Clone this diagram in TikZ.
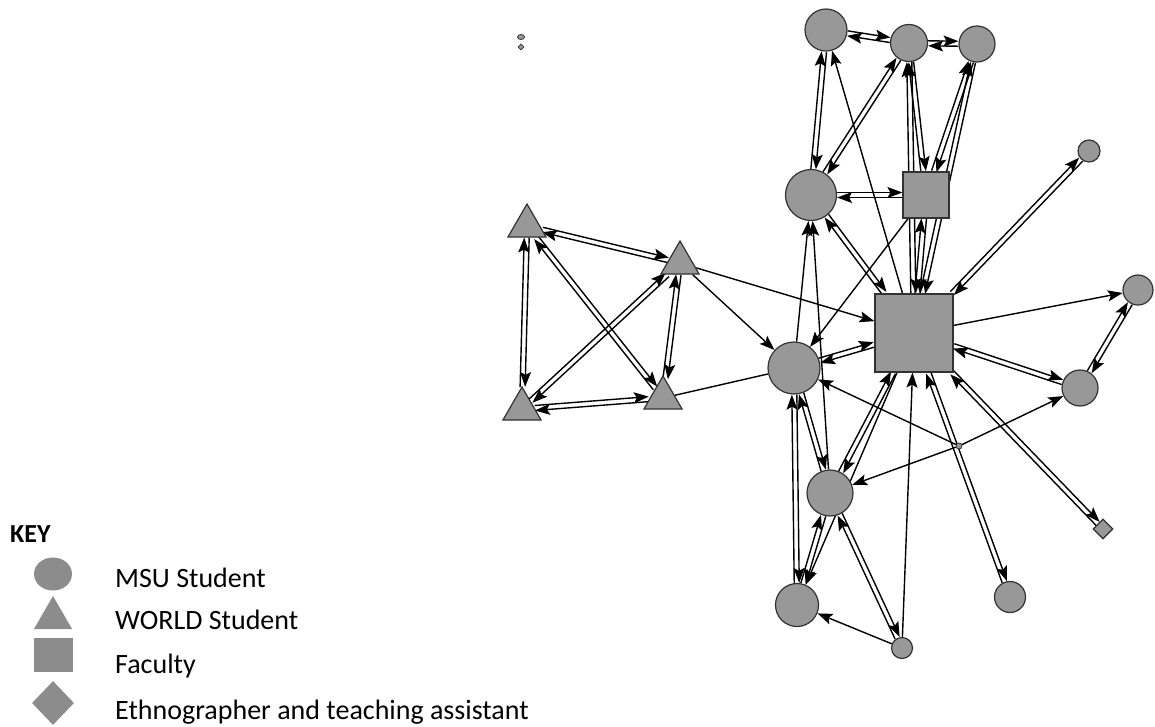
\documentclass[tikz,border=0pt]{standalone}
\usepackage{fontspec}
\setmainfont{Carlito}
\usetikzlibrary{arrows.meta,shapes.geometric,backgrounds}
\definecolor{nodegray}{RGB}{152,152,152}
\definecolor{rimgray}{RGB}{50,50,50}
\definecolor{keygray}{RGB}{140,140,140}

\begin{document}
\begin{tikzpicture}[x=1pt,y=-1pt,
    msu/.style={circle,draw=rimgray,fill=nodegray,line width=1.2pt,inner sep=0pt,minimum size=#1},
    world/.style={regular polygon,regular polygon sides=3,draw=rimgray,fill=nodegray,line width=1.2pt,inner sep=0pt,minimum size=44pt},
    faculty/.style={rectangle,draw=rimgray,fill=nodegray,line width=1.2pt,inner sep=0pt,minimum size=#1},
    ethno/.style={diamond,draw=rimgray,fill=nodegray,line width=1.2pt,inner sep=0pt,minimum size=#1},
    tie/.style={-{Stealth[length=15pt,width=11pt,inset=3pt]},line width=1.4pt},
    keyshape/.style={fill=keygray,draw=none,inner sep=0pt},
    keytext/.style={anchor=base west,inner sep=0pt,font=\fontsize{28}{32}\selectfont}]
    \useasboundingbox (0,0) rectangle (1155,726);
    % isolates
    \node[ellipse,draw=rimgray,fill=nodegray,line width=0.8pt,inner sep=0pt,minimum width=7pt,minimum height=5pt] (iso1) at (521,37) {};
    \node[ethno=6pt,line width=0.8pt] (iso2) at (521,47) {};
    % WORLD students
    \node[world] (wA) at (527,226) {};
    \node[world] (wB) at (680,263) {};
    \node[world] (wC) at (522,409) {};
    \node[world] (wD) at (663,398) {};
    % faculty
    \node[faculty=78pt] (fB) at (914,333) {};
    \node[faculty=46pt] (fS) at (926,195) {};
    % MSU students
    \node[msu=42pt] (sT1) at (826,30) {};
    \node[msu=37pt] (sT2) at (909,43) {};
    \node[msu=36pt] (sT3) at (977,44) {};
    \node[msu=51pt] (sL) at (811,195) {};
    \node[msu=52pt] (sM) at (794,368) {};
    \node[msu=22pt] (sR1) at (1089,151) {};
    \node[msu=30pt] (sR2) at (1138,290) {};
    \node[msu=36pt] (sR3) at (1080,388) {};
    \node[msu=46pt] (sLo) at (830,493) {};
    \node[msu=43pt] (sB) at (797,605) {};
    \node[msu=21pt] (sBs) at (902,648) {};
    \node[msu=31pt] (sB2) at (1010,597) {};
    \node[msu=6pt,line width=0.8pt] (hub) at (959,446) {};
    % ethnographer
    \node[ethno=20pt] (dE) at (1103,529) {};

    \begin{scope}[on background layer]
        % mutual ties: two parallel arrows
        \foreach \a/\b in {wA/wB,wA/wC,wA/wD,wB/wC,wB/wD,wC/wD,
            sT1/sT2,sT2/sT3,sT1/sL,sT2/sL,sT2/fS,sT3/fS,sL/fS,sL/fB,
            fS/fB,sT2/fB,sT3/fB,sM/fB,sM/sB,sM/sLo,sLo/sB,sLo/sBs,
            sLo/fB,fB/sR1,fB/sR3,sR2/sR3,fB/dE,fB/sB2}{
            \pgfmathanglebetweenpoints{\pgfpointanchor{\a}{center}}{\pgfpointanchor{\b}{center}}
            \let\tieang\pgfmathresult
            \draw[tie,transform canvas={shift={(\tieang+90:2.5pt)}}] (\a) -- (\b);
            \draw[tie,transform canvas={shift={(\tieang-90:2.5pt)}}] (\b) -- (\a);
        }
        % one-way ties
        \foreach \a/\b in {wB/sM,wB/fB,fB/sT1,fS/sM,sM/sL,sLo/sL,hub/sM,
            hub/sR3,hub/sLo,fB/sR2,sBs/fB,sBs/sB,fB/sB}{
            \draw[tie] (\a) -- (\b);
        }
        \draw[line width=1.4pt] (wD) -- (sM);
    \end{scope}

    % key
    \node[anchor=base west,inner sep=0pt,font=\fontsize{26}{30}\selectfont\bfseries] (keyTitle) at (10,542) {KEY};
    \node[keyshape,ellipse,minimum width=38pt,minimum height=33pt] (keyMsu) at (53,574) {};
    \node[keyshape,regular polygon,regular polygon sides=3,minimum size=44pt] (keyWorld) at (53,618) {};
    \node[keyshape,rectangle,minimum width=39pt,minimum height=34pt] (keyFaculty) at (53,655) {};
    \node[keyshape,diamond,minimum width=42pt,minimum height=44pt] (keyEthno) at (53,703) {};
    \node[keytext] (labMsu) at (115,587) {MSU Student};
    \node[keytext] (labWorld) at (115,629) {WORLD Student};
    \node[keytext] (labFaculty) at (115,673) {Faculty};
    \node[keytext] (labEthno) at (115,719) {Ethnographer and teaching assistant};
\end{tikzpicture}
\end{document}
